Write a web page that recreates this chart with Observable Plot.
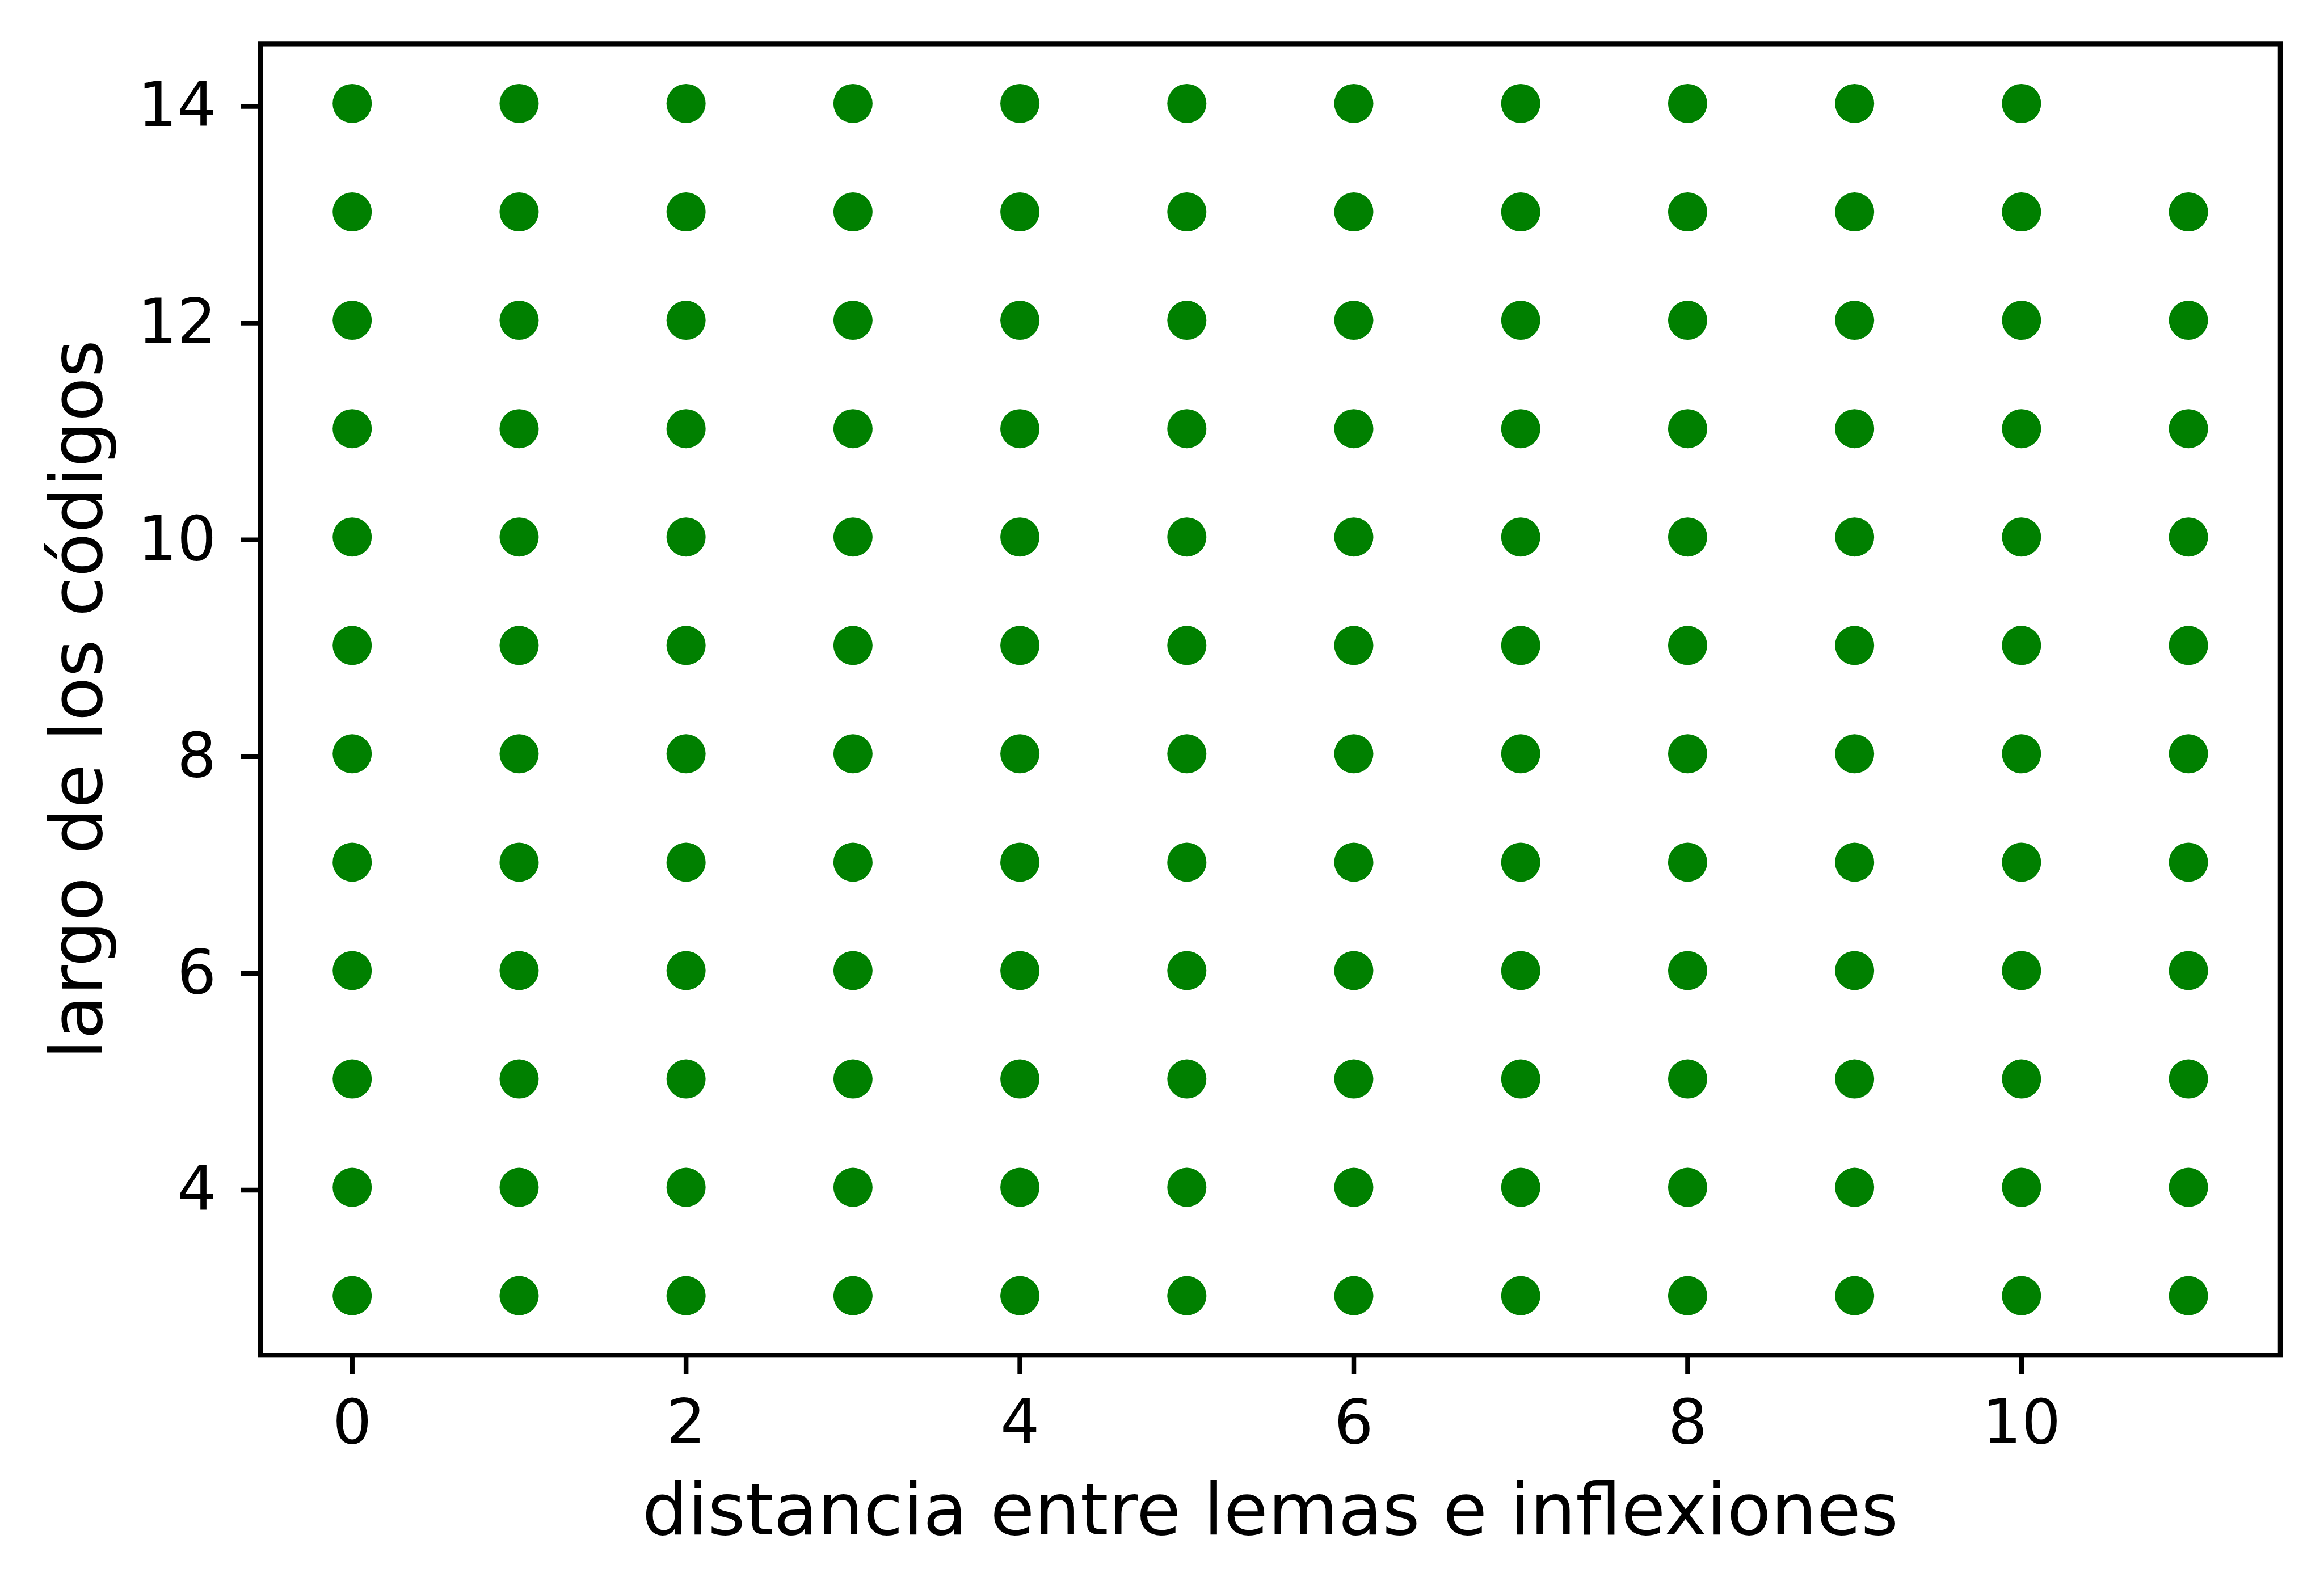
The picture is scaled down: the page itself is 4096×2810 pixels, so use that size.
<!DOCTYPE html>
<html>
<head>
<meta charset="utf-8">
<script src="https://cdn.jsdelivr.net/npm/d3@7"></script>
<script src="https://cdn.jsdelivr.net/npm/@observablehq/plot@0.6"></script>
<style>
  html, body { margin: 0; padding: 0; background: #fff; }
  #chart svg { display: block; }
</style>
</head>
<body>
<div id="chart"></div>
<script>
// distance between lemmas and inflections (x)
const distancias = [0, 1, 2, 3, 4, 5, 6, 7, 8, 9, 10, 11];
// code lengths observed at each distance (y)
const largosPorDistancia = [
  [3, 4, 5, 6, 7, 8, 9, 10, 11, 12, 13, 14],
  [3, 4, 5, 6, 7, 8, 9, 10, 11, 12, 13, 14],
  [3, 4, 5, 6, 7, 8, 9, 10, 11, 12, 13, 14],
  [3, 4, 5, 6, 7, 8, 9, 10, 11, 12, 13, 14],
  [3, 4, 5, 6, 7, 8, 9, 10, 11, 12, 13, 14],
  [3, 4, 5, 6, 7, 8, 9, 10, 11, 12, 13, 14],
  [3, 4, 5, 6, 7, 8, 9, 10, 11, 12, 13, 14],
  [3, 4, 5, 6, 7, 8, 9, 10, 11, 12, 13, 14],
  [3, 4, 5, 6, 7, 8, 9, 10, 11, 12, 13, 14],
  [3, 4, 5, 6, 7, 8, 9, 10, 11, 12, 13, 14],
  [3, 4, 5, 6, 7, 8, 9, 10, 11, 12, 13, 14],
  [3, 4, 5, 6, 7, 8, 9, 10, 11, 12, 13]
];
const xTicks = [0, 2, 4, 6, 8, 10];
const yTicks = [4, 6, 8, 10, 12, 14];
const xLabel = "distancia entre lemas e inflexiones";
const yLabel = "largo de los códigos";

const puntos = [];
distancias.forEach((d, i) => {
  largosPorDistancia[i].forEach(l => puntos.push({distancia: d, largo: l}));
});

const W = 4096, H = 2810;
const mL = 458.4, mR = W - 4018.4, mT = 76.9, mB = H - 2388.7;

const chart = Plot.plot({
  width: W,
  height: H,
  marginLeft: mL,
  marginRight: mR,
  marginTop: mT,
  marginBottom: mB,
  style: {fontFamily: "DejaVu Sans", fontSize: "109px", color: "black", background: "white"},
  x: {domain: [-0.55, 11.55], label: null},
  y: {domain: [2.45, 14.55], label: null},
  marks: [
    Plot.dot(puntos, {x: "distancia", y: "largo", r: 34.5, fill: "#008000", stroke: "none"}),
    Plot.frame({stroke: "black", strokeWidth: 8.3}),
    Plot.axisX({ticks: xTicks, tickSize: 33.5, tickPadding: 44, fontSize: 109, strokeWidth: 8.5, label: null, tickFormat: d => String(d)}),
    Plot.axisY({ticks: yTicks, tickSize: 33.5, tickPadding: 44, fontSize: 109, strokeWidth: 8.5, label: null, dy: 5, tickFormat: d => String(d)}),
    Plot.text([xLabel], {text: d => d, frameAnchor: "bottom", lineAnchor: "bottom", textAnchor: "middle", dy: 316, fontSize: 127, fill: "black"}),
    Plot.text([yLabel], {text: d => d, frameAnchor: "left", lineAnchor: "bottom", textAnchor: "middle", rotate: -90, dx: -280, fontSize: 127, fill: "black"})
  ]
});
document.getElementById("chart").appendChild(chart);
</script>
</body>
</html>
